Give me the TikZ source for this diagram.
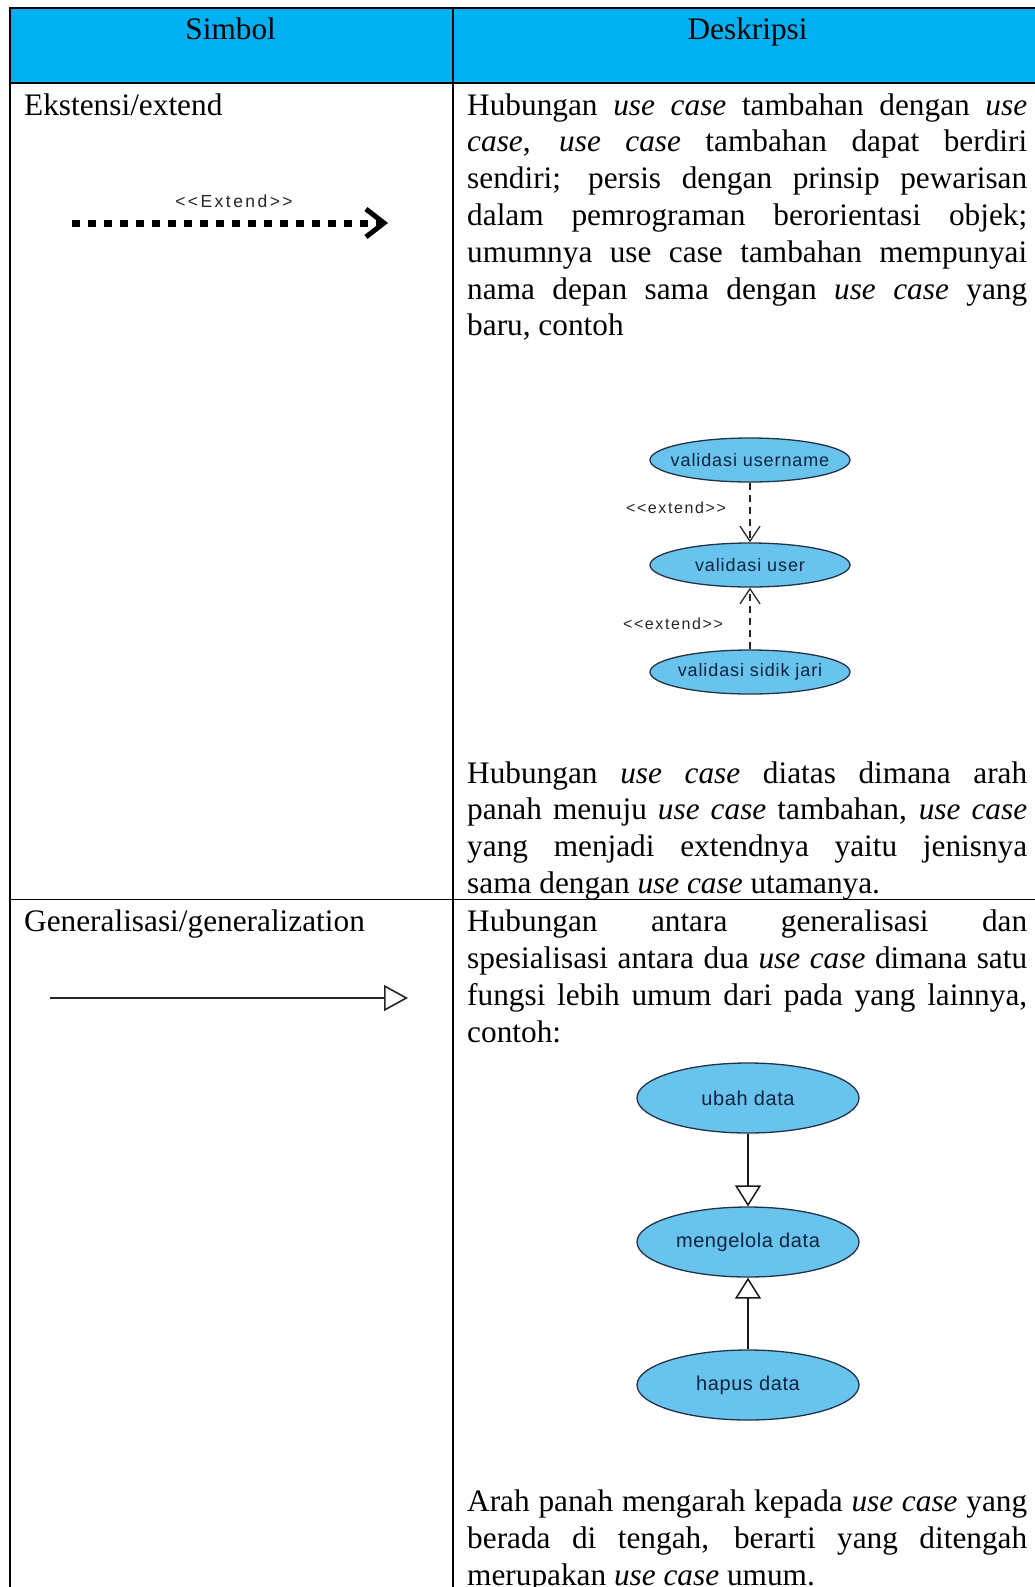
\documentclass[tikz,border=0pt]{standalone}
\usepackage{fontspec}
\setmainfont{Liberation Serif}
\newfontfamily\ucfont{Liberation Sans}
\usepackage{xcolor}
\usetikzlibrary{arrows.meta,shapes.geometric,positioning}
\definecolor{hdrblue}{RGB}{0,176,240}
\definecolor{ucfill}{RGB}{104,196,236}
\definecolor{ucline}{RGB}{35,50,70}
\definecolor{uctext}{RGB}{15,35,65}
\newcommand{\bodyfont}{\fontsize{31.3}{36.8}\selectfont}
\tikzset{%
	tableline/.style = {line width=1.6pt},
	hdr/.style       = {anchor=base, inner sep=0, font=\bodyfont},
	celltext/.style  = {anchor=base west, inner sep=0, font=\bodyfont},
	desc/.style      = {anchor=base west, inner sep=0, text width=560pt, align=justify, font=\bodyfont},
	usecase/.style   = {ellipse, draw=ucline, line width=1.3pt, fill=ucfill, text=uctext, inner xsep=-30pt, inner ysep=0},
	ucsmall/.style   = {usecase, minimum width=200pt, minimum height=44pt, font=\ucfont\fontsize{18}{20}\selectfont\addfontfeature{LetterSpace=5}},
	ucbig/.style     = {usecase, minimum width=222pt, minimum height=70pt, font=\ucfont\fontsize{20}{22}\selectfont\addfontfeature{LetterSpace=3}},
	stereo/.style    = {inner sep=0, text=black!85, font=\ucfont\fontsize{16}{18}\selectfont\addfontfeature{LetterSpace=10}},
	extline/.style   = {line width=1.3pt, dash pattern=on 7pt off 5pt, draw=black!85, -{Straight Barb[length=15pt,width=20pt]}},
	genline/.style   = {line width=1.5pt, draw=black!90, -{Triangle[open,length=21pt,width=26pt,fill=white]}},
	extsym/.style    = {line width=7pt, dash pattern=on 8pt off 8pt, -{Straight Barb[length=18pt,width=28pt,line width=5pt]}},
	gensym/.style    = {line width=1.6pt, draw=black!85, -{Triangle[open,length=24pt,width=26pt,fill=white]}},
}
\begin{document}
\begin{tikzpicture}[x=1pt,y=-1pt]
	\useasboundingbox (0,0) rectangle (1035,1587);
	\fill[hdrblue] (10,8) rectangle (1035,83);
	\draw[tableline] (10,1587) -- (10,8) -- (1035,8);
	\draw[tableline] (10,83) -- (1035,83);
	\draw[tableline] (453,8) -- (453,1587);
	\draw[tableline] (10,899.5) -- (1035,899.5);

	\node[hdr] (simbol) at (230.7,40) {Simbol};
	\node[hdr] (deskripsi) at (747.6,40) {Deskripsi};

	\node[celltext] (ekstensi) at (24,115) {Ekstensi/extend};
	\node[stereo, font=\ucfont\fontsize{17.5}{19}\selectfont\addfontfeature{LetterSpace=14}] (extlbl) at (234,201) {{<}{<}Extend{>}{>}};
	\coordinate (exta) at (72,223);
	\coordinate (extb) at (388,223);
	\draw[extsym] (exta) -- (extb);

	\node[desc] (descA) at (467,115) {Hubungan \textit{use case} tambahan dengan \textit{use}\linebreak
		\textit{case}, \textit{use case} tambahan dapat berdiri\linebreak
		sendiri; persis dengan prinsip pewarisan\linebreak
		dalam pemrograman berorientasi objek;\linebreak
		umumnya use case tambahan mempunyai\linebreak
		nama depan sama dengan \textit{use case} yang\linebreak
		baru, contoh};

	\node[ucsmall] (vusername) at (750,460) {validasi username};
	\node[ucsmall] (vuser) at (750,565) {validasi user};
	\node[ucsmall] (vsidik) at (750,672) {validasi sidik jari};
	\draw[extline] (vusername) -- (vuser);
	\draw[extline] (vsidik) -- (vuser);
	\node[stereo] (ext1) at (676,508) {{<}{<}extend{>}{>}};
	\node[stereo] (ext2) at (673,624) {{<}{<}extend{>}{>}};

	\node[desc] (descB) at (467,783) {Hubungan \textit{use case} diatas dimana arah\linebreak
		panah menuju \textit{use case} tambahan, \textit{use case}\linebreak
		yang menjadi extendnya yaitu jenisnya\linebreak
		sama dengan \textit{use case} utamanya.};

	\node[celltext] (general) at (24,931.7) {Generalisasi/generalization};
	\coordinate (gena) at (50,998);
	\coordinate (genb) at (408,998);
	\draw[gensym] (gena) -- (genb);

	\node[desc] (descC) at (467,931.7) {Hubungan antara generalisasi dan\linebreak
		spesialisasi antara dua \textit{use case} dimana satu\linebreak
		fungsi lebih umum dari pada yang lainnya,\linebreak
		contoh:};

	\node[ucbig] (ubah) at (748,1098) {ubah data};
	\node[ucbig] (kelola) at (748,1242) {mengelola data};
	\node[ucbig] (hapus) at (748,1385) {hapus data};
	\draw[genline] (ubah) -- (kelola);
	\draw[genline] (hapus) -- (kelola);

	\node[desc] (descD) at (467,1511.4) {Arah panah mengarah kepada \textit{use case} yang\linebreak
		berada di tengah, berarti yang ditengah\linebreak
		merupakan \textit{use case} umum.};
\end{tikzpicture}
\end{document}
